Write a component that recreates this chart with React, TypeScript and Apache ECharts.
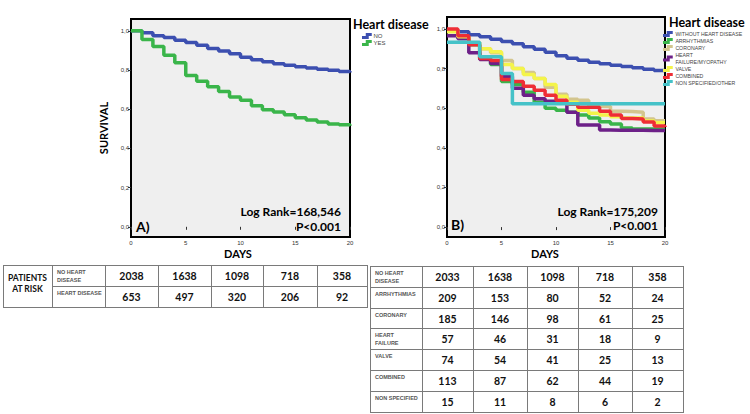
import React, { useEffect, useRef } from "react";
import * as echarts from "echarts";

// ---------- data ----------
const DAYS = [0, 1, 2, 3, 4, 5, 6, 7, 8, 9, 10, 11, 12, 13, 14, 15, 16, 17, 18, 19, 20];
const SURVIVAL_TICKS = [0, 0.2, 0.4, 0.6, 0.8, 1.0];

const A_NAMES = ["NO", "YES"];
const A_NO = [1.0, 0.99, 0.975, 0.965, 0.952, 0.94, 0.926, 0.91, 0.897, 0.883, 0.865, 0.852, 0.842, 0.832, 0.824, 0.817, 0.81, 0.804, 0.798, 0.792, 0.787];
const A_YES = [1.0, 0.955, 0.92, 0.875, 0.837, 0.772, 0.743, 0.714, 0.69, 0.662, 0.645, 0.617, 0.597, 0.585, 0.571, 0.556, 0.545, 0.535, 0.525, 0.52, 0.515];

const B_NAMES = [
  "WITHOUT HEART DISEASE",
  "ARRHYTHMIAS",
  "CORONARY",
  "HEART\nFAILURE/MYOPATHY",
  "VALVE",
  "COMBINED",
  "NON SPECIFIED/OTHER",
];
const B_WITHOUT = [0.995, 0.985, 0.97, 0.96, 0.948, 0.937, 0.925, 0.91, 0.897, 0.882, 0.865, 0.852, 0.842, 0.832, 0.824, 0.817, 0.81, 0.804, 0.797, 0.79, 0.785];
const B_ARRHYTHMIAS = [0.99, 0.96, 0.92, 0.85, 0.82, 0.735, 0.72, 0.68, 0.63, 0.6, 0.59, 0.58, 0.566, 0.55, 0.532, 0.52, 0.5, 0.495, 0.495, 0.495, 0.493];
const B_CORONARY = [0.99, 0.955, 0.93, 0.9, 0.88, 0.84, 0.8, 0.78, 0.75, 0.705, 0.67, 0.645, 0.64, 0.61, 0.608, 0.585, 0.583, 0.58, 0.545, 0.537, 0.535];
const B_HEART_FAILURE = [0.965, 0.95, 0.88, 0.845, 0.825, 0.76, 0.7, 0.665, 0.648, 0.635, 0.625, 0.58, 0.515, 0.515, 0.49, 0.488, 0.488, 0.488, 0.487, 0.487, 0.487];
const B_VALVE = [0.986, 0.96, 0.93, 0.9, 0.885, 0.82, 0.8, 0.77, 0.75, 0.72, 0.66, 0.63, 0.59, 0.575, 0.566, 0.557, 0.55, 0.55, 0.535, 0.527, 0.525];
const B_COMBINED = [1.0, 0.965, 0.92, 0.85, 0.84, 0.745, 0.735, 0.71, 0.69, 0.665, 0.64, 0.62, 0.605, 0.605, 0.585, 0.565, 0.548, 0.545, 0.53, 0.51, 0.505];
const B_NON_SPECIFIED = [0.933, 0.933, 0.933, 0.86, 0.86, 0.775, 0.622, 0.622, 0.622, 0.622, 0.622, 0.622, 0.622, 0.622, 0.622, 0.622, 0.622, 0.622, 0.622, 0.622, 0.622];

const RISK_A_ROWS = ["NO HEART\nDISEASE", "HEART DISEASE"];
const RISK_A_NO = [2038, 1638, 1098, 718, 358];
const RISK_A_YES = [653, 497, 320, 206, 92];

const RISK_B_ROWS = ["NO HEART\nDISEASE", "ARRHYTHMIAS", "CORONARY", "HEART\nFAILURE", "VALVE", "COMBINED", "NON SPECIFIED"];
const RISK_B_NO = [2033, 1638, 1098, 718, 358];
const RISK_B_ARR = [209, 153, 80, 52, 24];
const RISK_B_COR = [185, 146, 98, 61, 25];
const RISK_B_HF = [57, 46, 31, 18, 9];
const RISK_B_VAL = [74, 54, 41, 25, 13];
const RISK_B_COMB = [113, 87, 62, 44, 19];
const RISK_B_NON = [15, 11, 8, 6, 2];

// ---------- styles ----------
const A_COLORS = ["#3c4fb0", "#3ab54a"];
const B_COLORS = ["#3c4fb0", "#3ab54a", "#d3c58e", "#6d2088", "#f4f44a", "#ee2d35", "#45c2c8"];
const BOLD = "Lato, 'Open Sans', sans-serif";
const SMALL = "'Liberation Sans', Arial, sans-serif";
const STEP_ICON = "path://M0,4 L5,4 L5,0 L13,0 L13,4 L9,4 L9,8 L0,8 Z";

function toPairs(vals: number[]) {
  return DAYS.map((d, i) => [d, vals[i]]);
}

function fmtY(v: number) {
  return v.toFixed(1).replace(".", ",");
}

function stepSeries(name: string, vals: number[], color: string, idx: number) {
  return {
    type: "line",
    name,
    step: "end",
    xAxisIndex: idx,
    yAxisIndex: idx,
    data: toPairs(vals),
    showSymbol: false,
    symbol: "none",
    lineStyle: { width: 3.5, color },
    itemStyle: { color },
    emphasis: { disabled: true },
  };
}

function xAxisFor(idx: number) {
  return {
    type: "value",
    gridIndex: idx,
    min: 0,
    max: 20,
    interval: 5,
    axisLine: { show: false },
    axisTick: { show: true, inside: false, length: 3, lineStyle: { color: "#333", width: 1 } },
    axisLabel: { fontSize: 6, color: "#333", margin: 3, fontFamily: SMALL },
    splitLine: { show: false },
  };
}

function yAxisFor(idx: number, min: number, max: number, name: string) {
  return {
    type: "value",
    gridIndex: idx,
    min,
    max,
    name,
    nameLocation: "middle",
    nameGap: 22,
    nameRotate: 90,
    nameTextStyle: { fontSize: 11, fontWeight: "bold", color: "#000", fontFamily: BOLD },
    axisLine: { show: false },
    axisTick: {
      show: true,
      inside: false,
      length: 3,
      customValues: SURVIVAL_TICKS,
      lineStyle: { color: "#333", width: 1 },
    },
    axisLabel: {
      fontSize: 6,
      color: "#333",
      margin: 2,
      fontFamily: SMALL,
      customValues: SURVIVAL_TICKS,
      formatter: (v: number) => fmtY(v),
    },
    splitLine: { show: false },
  };
}

function tableGraphics() {
  const els: any[] = [];
  const lineColor = "#7a7a7a";
  const hline = (x1: number, x2: number, y: number) =>
    els.push({ type: "line", shape: { x1, y1: y + 0.5, x2, y2: y + 0.5 }, style: { stroke: lineColor, lineWidth: 1 }, silent: true });
  const vline = (x: number, y1: number, y2: number) =>
    els.push({ type: "line", shape: { x1: x + 0.5, y1, x2: x + 0.5, y2 }, style: { stroke: lineColor, lineWidth: 1 }, silent: true });
  const num = (x: number, y: number, v: number) =>
    els.push({
      type: "text",
      x,
      y,
      style: { text: String(v), fontSize: 10.5, fontWeight: "bold", fontFamily: BOLD, fill: "#111", align: "center", verticalAlign: "middle" },
      silent: true,
    });
  const label = (x: number, y: number, t: string) =>
    els.push({
      type: "text",
      x,
      y,
      style: { text: t, fontSize: 5.5, fontWeight: "bold", fontFamily: SMALL, fill: "#555", align: "left", verticalAlign: "top", lineHeight: 8 },
      silent: true,
    });

  // Table A
  const aCols = [3, 52, 105, 158, 211, 263, 317, 367];
  const aRows = [265, 286, 307];
  hline(aCols[0], aCols[aCols.length - 1] + 1, aRows[0]);
  hline(aCols[1], aCols[aCols.length - 1] + 1, aRows[1]);
  hline(aCols[0], aCols[aCols.length - 1] + 1, aRows[2]);
  aCols.forEach((c) => vline(c, aRows[0], aRows[2] + 1));
  els.push({
    type: "text",
    x: (aCols[0] + aCols[1]) / 2,
    y: 272,
    style: { text: "PATIENTS\nAT RISK", fontSize: 8.5, fontWeight: "bold", fontFamily: BOLD, fill: "#111", align: "center", verticalAlign: "top", lineHeight: 11 },
    silent: true,
  });
  const aData = [RISK_A_NO, RISK_A_YES];
  RISK_A_ROWS.forEach((r, ri) => {
    label(aCols[1] + 5, aRows[ri] + 3, r);
    aData[ri].forEach((v, ci) => num((aCols[ci + 2] + aCols[ci + 3]) / 2, (aRows[ri] + aRows[ri + 1]) / 2 + 0.5, v));
  });

  // Table B
  const bCols = [370, 422, 473, 527, 578, 632, 683];
  const bRows = [266, 287, 308, 328, 349, 370, 391, 412];
  bRows.forEach((r) => hline(bCols[0], bCols[bCols.length - 1] + 1, r));
  bCols.forEach((c) => vline(c, bRows[0], bRows[bRows.length - 1] + 1));
  const bData = [RISK_B_NO, RISK_B_ARR, RISK_B_COR, RISK_B_HF, RISK_B_VAL, RISK_B_COMB, RISK_B_NON];
  RISK_B_ROWS.forEach((r, ri) => {
    label(bCols[0] + 5, bRows[ri] + 3, r);
    bData[ri].forEach((v, ci) => num((bCols[ci + 1] + bCols[ci + 2]) / 2, (bRows[ri] + bRows[ri + 1]) / 2 + 0.5, v));
  });
  return els;
}

function plotTexts() {
  const t = (x: number, y: number, text: string, size: number, align: string) => ({
    type: "text",
    x,
    y,
    z: 100,
    style: { text, fontSize: size, fontWeight: "bold", fontFamily: BOLD, fill: "#000", align, verticalAlign: "middle" },
    silent: true,
  });
  return [
    t(341, 211, "Log Rank=168,546", 12, "right"),
    t(341, 226, "P<0.001", 12, "right"),
    t(136, 226, "A)", 14, "left"),
    t(658, 211, "Log Rank=175,209", 12, "right"),
    t(658, 225, "P<0.001", 12, "right"),
    t(451, 224, "B)", 14, "left"),
    t(238, 253, "DAYS", 11, "center"),
    t(545, 253, "DAYS", 11, "center"),
    t(353, 24, "Heart disease", 12.5, "left"),
    t(669, 22, "Heart disease", 12.5, "left"),
  ];
}

export default function App() {
  const ref = useRef<HTMLDivElement>(null);

  useEffect(() => {
    if (!ref.current) return;
    const chart = echarts.init(ref.current, null, { renderer: "svg" });
    const aVals = [A_NO, A_YES];
    const bVals = [B_WITHOUT, B_ARRHYTHMIAS, B_CORONARY, B_HEART_FAILURE, B_VALVE, B_COMBINED, B_NON_SPECIFIED];

    const legendCommon = {
      orient: "vertical",
      itemGap: 0,
      itemHeight: 6,
      icon: STEP_ICON,
      selectedMode: false,
      padding: 0,
    };

    chart.setOption({
      animation: false,
      backgroundColor: "#ffffff",
      grid: [
        { left: 131, top: 19, width: 219, height: 218, show: true, backgroundColor: "#efefef", borderColor: "#000", borderWidth: 2, z: 0 },
        { left: 447, top: 17, width: 218, height: 220, show: true, backgroundColor: "#efefef", borderColor: "#000", borderWidth: 2, z: 0 },
      ],
      xAxis: [xAxisFor(0), xAxisFor(1)],
      yAxis: [yAxisFor(0, -0.052, 1.06, "SURVIVAL"), yAxisFor(1, -0.05, 1.06, "")],
      legend: [
        {
          ...legendCommon,
          data: A_NAMES,
          left: 362,
          top: 32.5,
          itemWidth: 11,
          textStyle: { fontSize: 6, color: "#444", fontFamily: SMALL, lineHeight: 7, padding: [0, 0, 0, -4] },
        },
        {
          ...legendCommon,
          data: B_NAMES,
          left: 663,
          top: 30.5,
          itemWidth: 13,
          textStyle: { fontSize: 5.2, color: "#444", fontFamily: SMALL, lineHeight: 7, padding: [0, 0, 0, -4] },
        },
      ],
      series: [
        ...A_NAMES.map((n, i) => stepSeries(n, aVals[i], A_COLORS[i], 0)),
        ...B_NAMES.map((n, i) => stepSeries(n, bVals[i], B_COLORS[i], 1)),
      ],
      graphic: [...tableGraphics(), ...plotTexts()],
    });
    return () => chart.dispose();
  }, []);

  return (
    <div
      ref={ref}
      style={{ position: "absolute", left: 0, top: 0, width: 750, height: 414, background: "#fff" }}
    />
  );
}
